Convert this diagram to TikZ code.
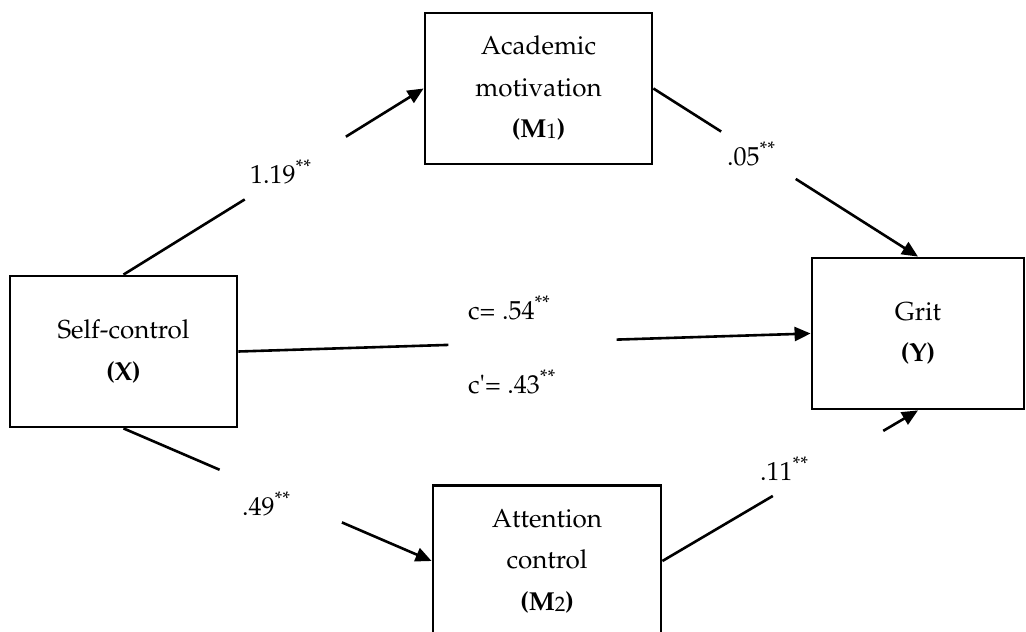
\documentclass[tikz,border=0pt]{standalone}
\usepackage[T1]{fontenc}
\usepackage{mathpazo}
\usetikzlibrary{arrows.meta,calc}
\tikzstyle{every node}=[font=\fontsize{26}{41.5}\selectfont]
\tikzstyle{var}=[draw, line width=2.8pt, minimum width=227pt, minimum height=151pt, align=center, inner sep=0pt]
\tikzstyle{coef}=[anchor=base west, inner sep=0pt]
\tikzstyle{seg}=[line width=2.6pt]
\tikzstyle{arr}=[line width=2.6pt, -{Triangle[length=16pt,width=14pt]}]
\newcommand{\idx}[1]{\raisebox{-1pt}{\fontsize{21}{21}\selectfont\mdseries #1}}

\begin{document}
\begin{tikzpicture}[x=1pt,y=-1pt]
\clip (0,0) rectangle (1026,632);
\node[var]                   (X)  at (123.5,351.5) {Self-control\\\textbf{(X)}};
\node[var]                   (M1) at (538.5,88.5)  {Academic\\motivation\\\textbf{(M\idx{1})}};
\node[var,minimum width=212pt] (Y)  at (918,333.5)   {Grit\\\textbf{(Y)}};
\node[var,minimum width=228pt] (M2) at (547,561)     {Attention\\control\\\textbf{(M\idx{2})}};

% each path is broken where its coefficient sits
\draw[seg] (X.north) -- ($(X.north)!.404!(M1.west)$);
\draw[arr] ($(X.north)!.741!(M1.west)$) -- (M1.west);
\draw[seg] (M1.east) -- ($(M1.east)!.256!(Y.north)$);
\draw[arr] ($(M1.east)!.538!(Y.north)$) -- (Y.north);
\draw[seg] (X.east) -- ($(X.east)!.367!(Y.west)$);
\draw[arr] ($(X.east)!.661!(Y.west)$) -- (Y.west);
\draw[seg] (X.south) -- ($(X.south)!.312!(M2.west)$);
\draw[arr] ($(X.south)!.709!(M2.west)$) -- (M2.west);
\draw[seg] (M2.east) -- ($(M2.east)!.432!(Y.south)$);
\draw[arr] ($(M2.east)!.864!(Y.south)$) -- (Y.south);

\node[coef] (a1) at (250,183) {1.19\textsuperscript{**}};
\node[coef] (b1) at (727,165) {.05\textsuperscript{**}};
\node[coef] (c)  at (468,319) {c= .54\textsuperscript{**}};
\node[coef] (cp) at (468,393) {c\textquotesingle= .43\textsuperscript{**}};
\node[coef] (a2) at (242,515) {.49\textsuperscript{**}};
\node[coef] (b2) at (760,480) {.11\textsuperscript{**}};
\end{tikzpicture}
\end{document}
